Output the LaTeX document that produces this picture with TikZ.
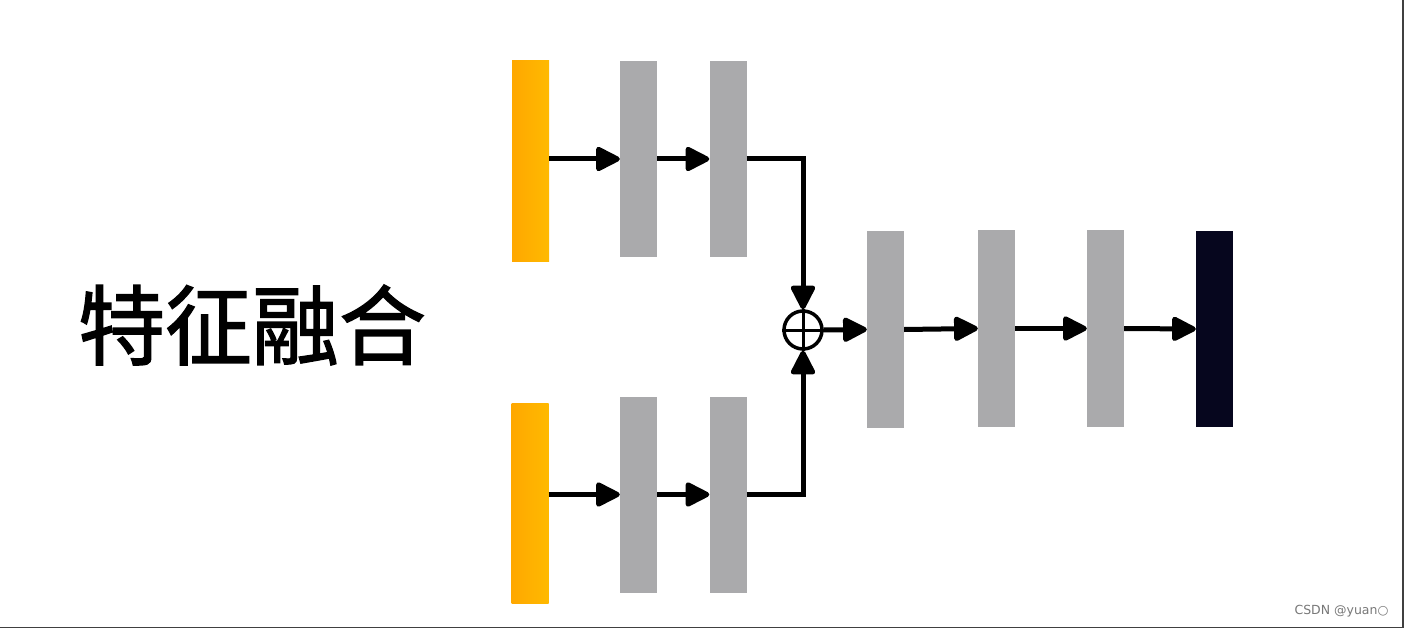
\documentclass[tikz,border=0pt]{standalone}
\usepackage{fontspec}
\newfontfamily\cjk[FakeBold=1.6]{Noto Sans CJK SC}
\newfontfamily\dejavu{DejaVu Sans}
\usetikzlibrary{arrows.meta,calc}
\definecolor{barorange}{RGB}{255,182,0}
\definecolor{bargray}{RGB}{170,170,172}
\definecolor{bardark}{RGB}{6,6,30}
\definecolor{wmgray}{RGB}{120,120,120}
\tikzset{
  bar/.style={rectangle,inner sep=0pt,minimum width=37pt,minimum height=196pt},
  obar/.style={bar,minimum height=200pt,left color=barorange!92!red,right color=barorange!95!yellow},
  gbar/.style={bar,fill=bargray},
  dbar/.style={bar,fill=bardark},
  arr/.style={line width=5pt,-{Triangle[length=27pt,width=26pt,round]}},
  conn/.style={line width=5pt},
}
\begin{document}
\begin{tikzpicture}[x=1pt,y=-1pt]
\useasboundingbox (0,0) rectangle (1404,628);
\fill[white] (0,0) rectangle (1404,628);
\draw[line width=1.5pt,black!75] (1403,0) -- (1403,627.5) -- (0,627.5);
% title
\node[font=\cjk\fontsize{87}{92}\selectfont] (title) at (252,325) {特征融合};
% top branch
\node[obar] (o1) at (530.5,161) {};
\node[gbar] (g1) at (638.5,159) {};
\node[gbar] (g2) at (728,159) {};
% bottom branch
\node[obar] (o2) at (530,503) {};
\node[gbar] (g3) at (638.5,494.5) {};
\node[gbar] (g4) at (728,494.5) {};
% sum
\node[circle,draw,line width=3.5pt,minimum size=38pt,inner sep=0pt] (sum) at (803,330) {};
\draw[line width=3pt] (sum.north) -- (sum.south) (sum.west) -- (sum.east);
% right chain
\node[gbar] (r1) at (885.5,329.5) {};
\node[gbar] (r2) at (996.5,328.5) {};
\node[gbar] (r3) at (1105.5,328.5) {};
\node[dbar,minimum height=196pt] (out) at (1214.5,329) {};
% connectors
\draw[arr] (o1.east |- g1.west) -- (g1.west);
\draw[arr] (g1.east) -- (g2.west);
\draw[arr] (o2.east |- g3.west) -- (g3.west);
\draw[arr] (g3.east) -- (g4.west);
\draw[conn,line join=miter] (g2.east) -| ($(sum.north)+(0,-30)$);
\draw[arr] ($(sum.north)+(0,-32)$) -- (sum.north);
\draw[conn,line join=miter] (g4.east) -| ($(sum.south)+(0,30)$);
\draw[arr] ($(sum.south)+(0,32)$) -- (sum.south);
\draw[arr] (sum.east) -- (r1.west);
\draw[arr] (r1.east) -- (r2.west);
\draw[arr] (r2.east) -- (r3.west);
\draw[arr] (r3.east) -- (out.west);
% watermark
\node[font=\dejavu\fontsize{12.5}{14}\selectfont,text=wmgray,anchor=east] (wm) at (1392,611) {CSDN @yuan○};
\end{tikzpicture}
\end{document}
